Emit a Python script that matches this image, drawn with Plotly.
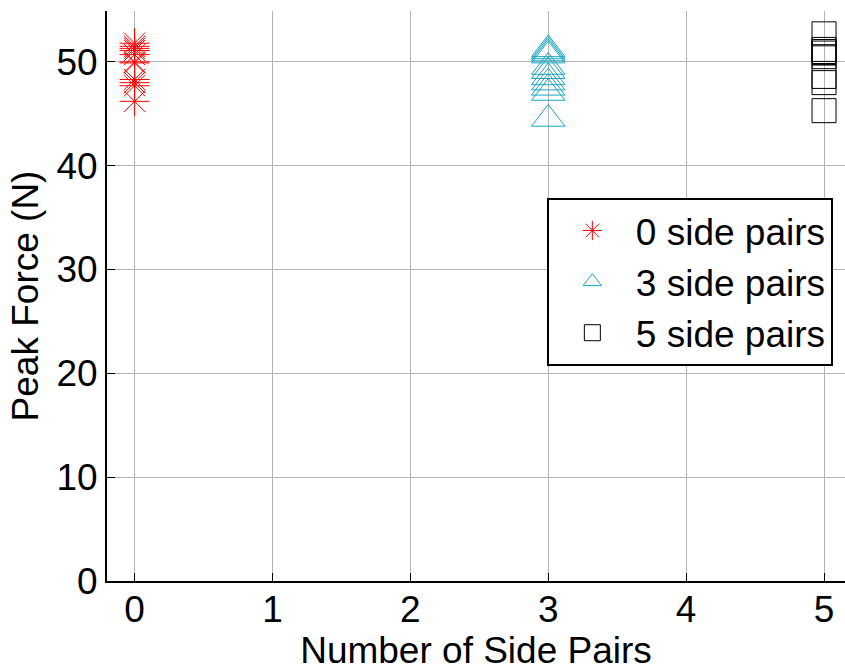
import plotly.graph_objects as go

# Data
x_zero = [0] * 11
y_zero = [51.8, 51.5, 51.3, 51.1, 50.7, 50.0, 49.9, 48.3, 48.0, 47.7, 46.2]
x_three = [3] * 11
y_three = [51.2, 51.0, 50.8, 50.6, 49.5, 49.1, 48.5, 48.0, 47.5, 47.0, 44.5]
x_five = [5] * 8
y_five = [52.7, 51.2, 51.0, 50.85, 50.5, 48.6, 48.0, 45.3]

x_ticks = [0, 1, 2, 3, 4, 5]
y_ticks = [0, 10, 20, 30, 40, 50]

FONT = "Liberation Sans, Arial, sans-serif"
FS = 37

fig = go.Figure()
fig.add_trace(go.Scatter(
    x=x_zero, y=y_zero, mode="markers", name="0 side pairs",
    marker=dict(symbol="asterisk-open", size=25, color="#ff0000",
                line=dict(color="#ff0000", width=1)),
))
fig.add_trace(go.Scatter(
    x=x_three, y=y_three, mode="markers", name="3 side pairs",
    marker=dict(symbol="triangle-up-open", size=29, color="#1aa6c0",
                line=dict(color="#1aa6c0", width=1)),
))
fig.add_trace(go.Scatter(
    x=x_five, y=y_five, mode="markers", name="5 side pairs",
    marker=dict(symbol="square-open", size=24, color="#000000",
                line=dict(color="#000000", width=1)),
))

xr = [-0.2, 5.152]
yr = [0, 54.9]

fig.update_layout(
    width=845, height=671,
    margin=dict(l=107, r=0, t=11, b=88),
    paper_bgcolor="white", plot_bgcolor="white",
    font=dict(family=FONT, size=FS, color="black"),
    showlegend=True,
    legend=dict(
        x=0.596, y=0.672, xanchor="left", yanchor="top",
        bgcolor="white", bordercolor="black", borderwidth=2,
        font=dict(family=FONT, size=FS, color="black"),
        itemwidth=77, tracegroupgap=0,
    ),
    xaxis=dict(
        range=xr, tickvals=x_ticks, ticktext=[str(v) for v in x_ticks],
        showgrid=True, gridcolor="#b4b4b4", gridwidth=1,
        zeroline=False, showline=True, linecolor="black", linewidth=2,
        ticks="inside", ticklen=8, tickcolor="black", tickwidth=1,
        ticklabelstandoff=-5,
        tickfont=dict(family=FONT, size=FS, color="black"),
        title=dict(text="Number of Side Pairs",
                   font=dict(family=FONT, size=FS, color="black")),
    ),
    yaxis=dict(
        range=yr, tickvals=y_ticks, ticktext=[str(v) for v in y_ticks],
        showgrid=True, gridcolor="#b4b4b4", gridwidth=1,
        zeroline=False, showline=True, linecolor="black", linewidth=2,
        ticks="inside", ticklen=8, tickcolor="black", tickwidth=1,
        tickfont=dict(family=FONT, size=FS, color="black"),
        title=dict(text="Peak Force (N)", standoff=6,
                   font=dict(family=FONT, size=FS, color="black")),
    ),
    xaxis2=dict(
        range=xr, tickvals=x_ticks, overlaying="x", side="top", anchor="y",
        showgrid=False, zeroline=False, showline=False,
        ticks="inside", ticklen=6, tickcolor="black", tickwidth=1,
        showticklabels=False,
    ),
)

fig.write_html("out.html")
